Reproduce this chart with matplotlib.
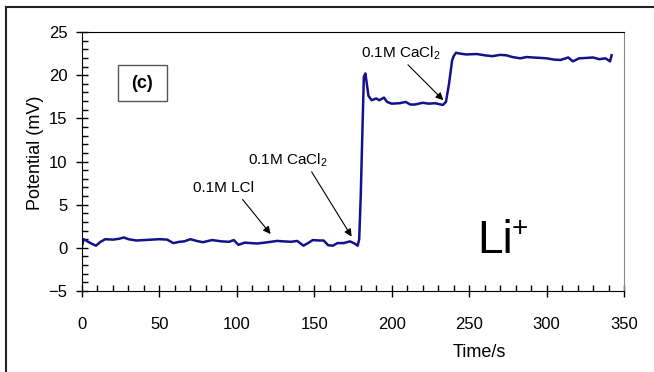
import matplotlib
matplotlib.use('Agg')
import matplotlib.pyplot as plt
from matplotlib.lines import Line2D
from matplotlib.patches import Rectangle
from matplotlib.ticker import MultipleLocator

plt.rcParams['font.family'] = ['Liberation Sans', 'DejaVu Sans']
plt.rcParams['mathtext.fontset'] = 'custom'
plt.rcParams['mathtext.rm'] = 'Liberation Sans'

time_s = [0, 1, 3, 6, 9, 12, 15, 20, 24, 27, 30, 35, 40, 45, 50, 55, 59, 63, 66, 70,
          74, 78, 84, 90, 95, 98, 101, 105, 109, 113, 118, 122, 126, 130, 135, 139,
          143, 146, 149, 153, 156, 159, 162, 165, 169, 173, 176, 178, 179, 180, 181,
          182, 183, 185, 187, 190, 192, 195, 197, 200, 205, 209, 212, 215, 220, 224,
          228, 233, 235, 237, 239, 240, 241.5, 244, 248, 255, 260, 265, 270, 274, 278,
          283, 287, 291, 296, 300, 305, 309, 314, 317, 321, 326, 330, 334, 338, 341, 342]
potential = [0.2, 1.0, 0.8, 0.5, 0.25, 0.7, 1.0, 0.95, 1.05, 1.2, 1.0, 0.85, 0.9, 0.95, 1.0, 0.95, 0.55, 0.7, 0.75, 1.0,
             0.8, 0.65, 0.9, 0.75, 0.7, 0.9, 0.35, 0.6, 0.55, 0.5, 0.6, 0.7, 0.8, 0.75, 0.7, 0.8,
             0.25, 0.55, 0.9, 0.85, 0.85, 0.3, 0.25, 0.55, 0.55, 0.75, 0.5, 0.25, 1.0, 6.0, 13.0,
             19.8, 20.2, 17.6, 17.1, 17.3, 17.1, 17.4, 16.9, 16.7, 16.75, 16.9, 16.6, 16.6, 16.8, 16.7,
             16.75, 16.55, 16.9, 19.0, 21.7, 22.2, 22.6, 22.5, 22.4, 22.45, 22.3, 22.2, 22.35, 22.3, 22.1,
             21.95, 22.1, 22.05, 22.0, 21.95, 21.8, 21.76, 22.05, 21.6, 21.95, 22.0, 22.05, 21.85, 21.95, 21.6, 22.3]

fig = plt.figure(figsize=(6.54, 3.72), dpi=100)
ax = fig.add_axes([82 / 654, 81 / 372, 542 / 654, 259 / 372])

ax.plot(time_s, potential, color='#12128a', lw=1.8)

ax.set_xlim(0, 350)
ax.set_ylim(-5, 25)
ax.xaxis.set_major_locator(MultipleLocator(50))
ax.xaxis.set_minor_locator(MultipleLocator(10))
ax.yaxis.set_major_locator(MultipleLocator(5))
ax.yaxis.set_minor_locator(MultipleLocator(1))
ax.tick_params(which='major', direction='inout', length=9, width=1, labelsize=12)
ax.tick_params(axis='x', which='major', pad=14)
ax.tick_params(axis='y', which='major', pad=6)
ax.tick_params(which='minor', direction='in', length=4, width=1)

for s in ['left', 'bottom', 'top']:
    ax.spines[s].set_color('black')
ax.spines['right'].set_color('#888888')

ax.set_xlabel('Time/s', fontsize=13)
ax.xaxis.set_label_coords((479 - 82) / 542, -(344 - 291) / 259)
ax.set_ylabel('Potential (mV)', fontsize=13)
ax.yaxis.set_label_coords(-(82 - 44) / 542, (291 - 153) / 259)

# panel tag
ax.add_patch(Rectangle(((118 - 82) / 542, (291 - 101) / 259), 49 / 542, 36 / 259,
                       transform=ax.transAxes, fc='white', ec='#555555', lw=1))
ax.text((142.5 - 82) / 542, (291 - 83) / 259, '(c)', fontsize=13, fontweight='bold',
        ha='center', va='center', transform=ax.transAxes)

# annotations
arrow = dict(arrowstyle='-|>', color='black', lw=0.8, mutation_scale=11, shrinkA=0, shrinkB=0)
ax.text(91.3, 6.9, '0.1M LCl', fontsize=11, ha='center', va='center')
ax.annotate('', xy=(121.8, 1.6), xytext=(103.7, 5.6), arrowprops=arrow)
ax.text(132.7, 10.1, r'0.1M CaCl$_\mathrm{2}$', fontsize=11, ha='center', va='center')
ax.annotate('', xy=(174.1, 1.3), xytext=(148.3, 8.8), arrowprops=arrow)
ax.text(205.6, 22.6, r'0.1M CaCl$_\mathrm{2}$', fontsize=11, ha='center', va='center')
ax.annotate('', xy=(233.3, 17.1), xytext=(210.5, 21.2), arrowprops=arrow)

ax.text(255, -0.6, 'Li', fontsize=33, ha='left', va='baseline')
ax.text(283, 2.2, '+', fontsize=20, ha='center', va='center')

# outer frame
fig.add_artist(Line2D([6 / 654, 6 / 654], [0, 365 / 372], color='#222222', lw=1.5))
fig.add_artist(Line2D([6 / 654, 1], [365 / 372, 365 / 372], color='#222222', lw=1.5))

fig.savefig('out.png', dpi=100)
